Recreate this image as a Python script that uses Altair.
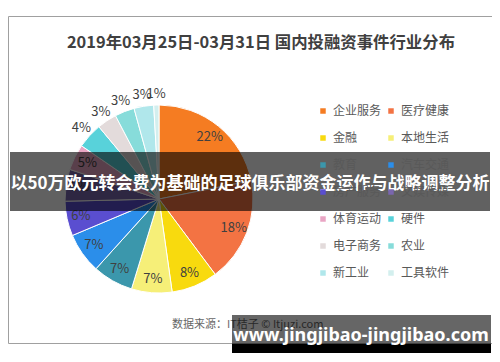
import altair as alt
import pandas as pd

categories = ["企业服务", "医疗健康", "金融", "本地生活", "教育", "汽车交通", "房产服务",
              "文娱传媒", "体育运动", "硬件", "电子商务", "农业", "新工业", "工具软件"]
# shares; labels show them rounded to whole percents
shares = [22, 18, 8, 7, 7, 7, 6, 5.5, 4.5, 4.4, 3.4, 3.4, 3.4, 0.9]
colors = ["#F57C22", "#F37343", "#F8DA0E", "#F6EF78", "#3B97AC", "#2B8EEA", "#5A4ED0",
          "#7A66AE", "#E9A5C4", "#58D2DA", "#E3DBDB", "#87DCDA", "#B0E7EB", "#D3EFEE"]

title_text = "2019年03月25日-03月31日 国内投融资事件行业分布"
banner_text = "以50万欧元转会费为基础的足球俱乐部资金运作与战略调整分析"
source_text = "数据来源：IT桔子 © Itjuzi.com"
site_text = "www.jingjibao-jingjibao.com"

FONT = "Noto Sans CJK SC"

df = pd.DataFrame({"category": categories, "share": shares,
                   "order": list(range(len(categories)))})
one = pd.DataFrame({"k": [0]})

# legend fills column by column: give it entries so rows read left-to-right
legend_values = categories[0::2] + categories[1::2]

frame = alt.Chart(one).mark_rect(fill="transparent", stroke="#A0A0A0", strokeWidth=1).encode(
    x=alt.value(0.5), x2=alt.value(490.5), y=alt.value(8.5), y2=alt.value(335.5))

title = alt.Chart(one).mark_text(font=FONT, fontSize=16.4, fontWeight="bold", color="#404040").encode(
    text=alt.value(title_text), x=alt.value(253), y=alt.value(35))

base = alt.Chart(df).encode(
    theta=alt.Theta("share:Q", stack=True),
    order=alt.Order("order:Q", sort="ascending"),
    x=alt.value(151), y=alt.value(191))

arcs = base.mark_arc(radius=94, stroke="white", strokeWidth=1).encode(
    color=alt.Color("category:N",
                    scale=alt.Scale(domain=categories, range=colors),
                    legend=alt.Legend(title=None, orient="none", legendX=309, legendY=97,
                                      columns=2, values=legend_values,
                                      symbolType="square", symbolSize=30,
                                      symbolStrokeWidth=0, labelFont=FONT, labelFontSize=12,
                                      labelColor="#595959", rowPadding=15, columnPadding=3,
                                      labelOffset=4, zindex=0)))

inner_labels = base.transform_calculate(
    lab="round(datum.share) >= 5 ? round(datum.share) + '%' : ''"
).mark_text(font=FONT, fontSize=13, color="#404040", radius=80).encode(text="lab:N")

outer_labels = base.transform_calculate(
    lab="round(datum.share) < 5 ? round(datum.share) + '%' : ''"
).mark_text(font=FONT, fontSize=13, color="#404040", radius=105).encode(text="lab:N")

source = alt.Chart(one).mark_text(font=FONT, fontSize=11, color="#666666", align="left").encode(
    text=alt.value(source_text), x=alt.value(164), y=alt.value(317))

banner = alt.Chart(one).mark_rect(color="black", opacity=0.62).encode(
    x=alt.value(2), x2=alt.value(482), y=alt.value(144), y2=alt.value(203))
banner_label = alt.Chart(one).mark_text(font=FONT, fontSize=17, fontWeight="bold", color="white").encode(
    text=alt.value(banner_text), x=alt.value(242), y=alt.value(176))

wm_gray = alt.Chart(one).mark_rect(color="black", opacity=0.6).encode(
    x=alt.value(224), x2=alt.value(483), y=alt.value(307), y2=alt.value(336))
wm_black = alt.Chart(one).mark_rect(color="black").encode(
    x=alt.value(224), x2=alt.value(483), y=alt.value(336), y2=alt.value(345))
wm_text = alt.Chart(one).mark_text(font="Noto Sans", fontSize=18, fontWeight="bold", color="white").encode(
    text=alt.value(site_text), x=alt.value(353), y=alt.value(328))

chart = alt.layer(frame, title, arcs, inner_labels, outer_labels, source, banner, banner_label,
                  wm_gray, wm_black, wm_text).properties(
    width=484, height=346, padding=0,
    autosize=alt.AutoSizeParams(type="none"), background="white"
).configure_view(stroke=None)

chart.save("out.html", embed_options={"renderer": "svg", "actions": False})
